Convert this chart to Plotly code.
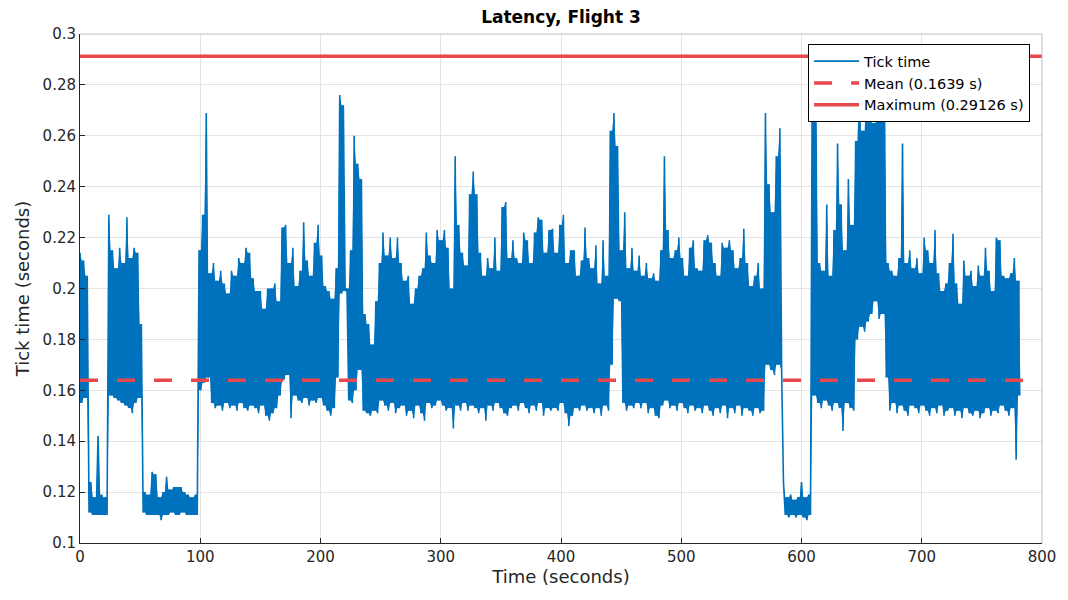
import numpy as np
import plotly.graph_objects as go

# Tick latency summarised in 3-second windows: highest and lowest tick time per window
WINDOW_S = 3.0

tick_peak = [
    0.214, 0.211, 0.205, 0.124, 0.118, 0.142, 0.119, 0.118, 0.229, 0.215,
    0.208, 0.216, 0.210, 0.228, 0.212, 0.216, 0.214, 0.186, 0.120, 0.119,
    0.128, 0.127, 0.118, 0.120, 0.126, 0.121, 0.122, 0.122, 0.122, 0.120,
    0.119, 0.118, 0.119, 0.215, 0.229, 0.269, 0.206, 0.210, 0.203, 0.207,
    0.202, 0.198, 0.207, 0.205, 0.212, 0.210, 0.216, 0.214, 0.204, 0.199,
    0.199, 0.192, 0.200, 0.200, 0.202, 0.195, 0.224, 0.225, 0.210, 0.216,
    0.201, 0.207, 0.226, 0.211, 0.205, 0.218, 0.225, 0.213, 0.201, 0.199,
    0.196, 0.208, 0.276, 0.272, 0.200, 0.215, 0.260, 0.249, 0.243, 0.190,
    0.186, 0.178, 0.195, 0.210, 0.222, 0.213, 0.220, 0.212, 0.220, 0.210,
    0.203, 0.205, 0.194, 0.200, 0.205, 0.208, 0.222, 0.213, 0.210, 0.223,
    0.219, 0.223, 0.216, 0.200, 0.252, 0.225, 0.214, 0.209, 0.237, 0.246,
    0.237, 0.214, 0.205, 0.212, 0.208, 0.220, 0.207, 0.232, 0.234, 0.212,
    0.219, 0.212, 0.210, 0.222, 0.219, 0.210, 0.222, 0.228, 0.227, 0.214,
    0.223, 0.2235, 0.214, 0.225, 0.229, 0.210, 0.215, 0.215, 0.205, 0.211,
    0.224, 0.212, 0.208, 0.217, 0.202, 0.219, 0.205, 0.262, 0.269, 0.256,
    0.215, 0.230, 0.208, 0.216, 0.207, 0.213, 0.205, 0.210, 0.204, 0.206,
    0.203, 0.215, 0.252, 0.223, 0.212, 0.215, 0.220, 0.212, 0.205, 0.216,
    0.219, 0.208, 0.207, 0.219, 0.221, 0.218, 0.210, 0.205, 0.218, 0.216,
    0.219, 0.215, 0.208, 0.212, 0.2235, 0.210, 0.201, 0.205, 0.210, 0.200,
    0.269, 0.241, 0.230, 0.252, 0.263, 0.124, 0.118, 0.119, 0.117, 0.118,
    0.124, 0.118, 0.119, 0.29126, 0.270, 0.210, 0.207, 0.233, 0.205, 0.223,
    0.257, 0.233, 0.215, 0.243, 0.225, 0.258, 0.280, 0.262, 0.278, 0.275,
    0.265, 0.281, 0.270, 0.275, 0.210, 0.207, 0.205, 0.212, 0.257, 0.210,
    0.215, 0.208, 0.212, 0.206, 0.220, 0.215, 0.210, 0.223, 0.206, 0.199,
    0.202, 0.210, 0.2215, 0.202, 0.194, 0.211, 0.205, 0.207, 0.201, 0.209,
    0.205, 0.216, 0.207, 0.199, 0.220, 0.219, 0.205, 0.204, 0.206, 0.212,
    0.203,
]

tick_trough = [
    0.155, 0.157, 0.112, 0.111, 0.111, 0.111, 0.111, 0.111, 0.158, 0.157,
    0.156, 0.155, 0.154, 0.153, 0.151, 0.155, 0.157, 0.112, 0.111, 0.111,
    0.111, 0.111, 0.109, 0.111, 0.111, 0.112, 0.111, 0.111, 0.112, 0.111,
    0.111, 0.111, 0.111, 0.160, 0.163, 0.165, 0.155, 0.153, 0.154, 0.152,
    0.155, 0.153, 0.154, 0.152, 0.155, 0.153, 0.152, 0.154, 0.153, 0.151,
    0.154, 0.150, 0.148, 0.151, 0.153, 0.158, 0.164, 0.166, 0.149, 0.158,
    0.156, 0.155, 0.157, 0.154, 0.156, 0.155, 0.157, 0.154, 0.152, 0.150,
    0.153, 0.165, 0.198, 0.199, 0.156, 0.155, 0.160, 0.168, 0.152, 0.151,
    0.150, 0.152, 0.151, 0.156, 0.154, 0.152, 0.155, 0.151, 0.153, 0.154,
    0.150, 0.152, 0.149, 0.154, 0.151, 0.148, 0.155, 0.153, 0.154, 0.156,
    0.154, 0.152, 0.153, 0.145, 0.154, 0.152, 0.155, 0.152, 0.154, 0.153,
    0.151, 0.153, 0.148, 0.154, 0.152, 0.155, 0.153, 0.151, 0.150, 0.153,
    0.154, 0.152, 0.155, 0.153, 0.151, 0.154, 0.152, 0.155, 0.150, 0.153,
    0.152, 0.153, 0.152, 0.155, 0.151, 0.146, 0.150, 0.153, 0.152, 0.154,
    0.152, 0.153, 0.151, 0.153, 0.150, 0.154, 0.152, 0.170, 0.196, 0.195,
    0.155, 0.152, 0.154, 0.153, 0.155, 0.153, 0.155, 0.151, 0.153, 0.150,
    0.149, 0.154, 0.156, 0.153, 0.154, 0.152, 0.155, 0.153, 0.151, 0.154,
    0.152, 0.153, 0.151, 0.154, 0.152, 0.150, 0.153, 0.151, 0.154, 0.149,
    0.153, 0.151, 0.154, 0.150, 0.153, 0.152, 0.150, 0.153, 0.151, 0.152,
    0.170, 0.168, 0.166, 0.170, 0.167, 0.111, 0.110, 0.111, 0.110, 0.111,
    0.110, 0.109, 0.111, 0.158, 0.155, 0.153, 0.156, 0.154, 0.152, 0.155,
    0.153, 0.144, 0.155, 0.153, 0.152, 0.180, 0.185, 0.183, 0.187, 0.190,
    0.195, 0.188, 0.190, 0.165, 0.152, 0.155, 0.151, 0.154, 0.152, 0.150,
    0.154, 0.153, 0.151, 0.154, 0.152, 0.150, 0.153, 0.151, 0.154, 0.150,
    0.152, 0.153, 0.150, 0.152, 0.149, 0.153, 0.151, 0.150, 0.152, 0.149,
    0.151, 0.153, 0.150, 0.152, 0.151, 0.154, 0.152, 0.150, 0.153, 0.1327,
    0.158,
]

mean_tick = 0.1639
max_tick = 0.29126

x_ticks = [0, 100, 200, 300, 400, 500, 600, 700, 800]
y_ticks = [0.1, 0.12, 0.14, 0.16, 0.18, 0.2, 0.22, 0.24, 0.26, 0.28, 0.3]

peak = np.asarray(tick_peak)
trough = np.asarray(tick_trough)

# Each window contributes its peak then its trough, half a window apart
t_peak = np.arange(len(peak)) * WINDOW_S
t_trough = t_peak + WINDOW_S / 2
t = np.column_stack([t_peak, t_trough]).ravel()
tick = np.column_stack([peak, trough]).ravel()

# Dense part of the trace: between consecutive samples the line sweeps the
# space under the lower of two neighbouring peaks and above the higher of
# two neighbouring troughs, so that space is painted solid.
next_peak = np.append(peak[1:], peak[-1])
prev_trough = np.insert(trough[:-1], 0, trough[0])
band_top = np.column_stack([peak, np.maximum(np.minimum(peak, next_peak), trough)]).ravel()
band_bot = np.column_stack([np.minimum(np.maximum(trough, prev_trough), peak), trough]).ravel()

BLUE = "#0072BD"
RED = "#E8474C"
FONT = "DejaVu Sans, Verdana, sans-serif"
INK = "#262626"
GRID = "#E3E3E3"

fig = go.Figure()
fig.add_trace(go.Scatter(
    x=np.concatenate([t, t[::-1]]),
    y=np.concatenate([band_top, band_bot[::-1]]),
    mode="lines", fill="toself", fillcolor=BLUE,
    line=dict(width=0, color=BLUE), showlegend=False, hoverinfo="skip"))
fig.add_trace(go.Scatter(x=t, y=tick, mode="lines", name="Tick time",
                         line=dict(color=BLUE, width=1.6, simplify=False)))
fig.add_trace(go.Scatter(x=[x_ticks[0], x_ticks[-1]], y=[mean_tick, mean_tick],
                         mode="lines", name=f"Mean ({mean_tick:g} s)",
                         line=dict(color=RED, width=3.5, dash="18px,19px")))
fig.add_trace(go.Scatter(x=[x_ticks[0], x_ticks[-1]], y=[max_tick, max_tick],
                         mode="lines", name=f"Maximum ({max_tick:g} s)",
                         line=dict(color=RED, width=3.5)))

fig.update_layout(
    width=1068, height=600,
    margin=dict(l=80, r=21, t=34, b=57),
    paper_bgcolor="white", plot_bgcolor="white",
    font=dict(family=FONT, size=15, color=INK),
    title=dict(text="<b>Latency, Flight 3</b>", x=0.5, xref="paper",
               y=1 - 17 / 600, yanchor="middle",
               font=dict(family=FONT, size=17, color="black")),
    showlegend=True,
    legend=dict(x=0.9876, y=0.98, xanchor="right", yanchor="top",
                bgcolor="white", bordercolor="black", borderwidth=1,
                font=dict(family=FONT, size=14.5, color="black"),
                itemwidth=45, tracegroupgap=0),
    shapes=[
        dict(type="line", xref="paper", yref="paper", x0=0, x1=1, y0=1, y1=1,
             line=dict(color="#BDBDBD", width=1)),
        dict(type="line", xref="paper", yref="paper", x0=1, x1=1, y0=0, y1=1,
             line=dict(color="#BDBDBD", width=1)),
    ],
)

fig.update_xaxes(
    range=[x_ticks[0], x_ticks[-1]], tickvals=x_ticks,
    ticktext=[str(v) for v in x_ticks],
    showgrid=True, gridcolor=GRID, gridwidth=1, zeroline=False,
    showline=True, linecolor=INK, linewidth=1,
    ticks="inside", ticklen=5, tickcolor=INK,
    tickfont=dict(size=15, color=INK),
    title=dict(text="Time (seconds)", font=dict(size=18, color=INK), standoff=5),
)
fig.update_yaxes(
    range=[y_ticks[0], y_ticks[-1]], tickvals=y_ticks,
    ticktext=[f"{v:g}" for v in y_ticks],
    showgrid=True, gridcolor=GRID, gridwidth=1, zeroline=False,
    showline=True, linecolor=INK, linewidth=1,
    ticks="inside", ticklen=5, tickcolor=INK,
    tickfont=dict(size=15, color=INK),
    title=dict(text="Tick time (seconds)", font=dict(size=18, color=INK), standoff=8),
)

fig.write_html("out.html")
